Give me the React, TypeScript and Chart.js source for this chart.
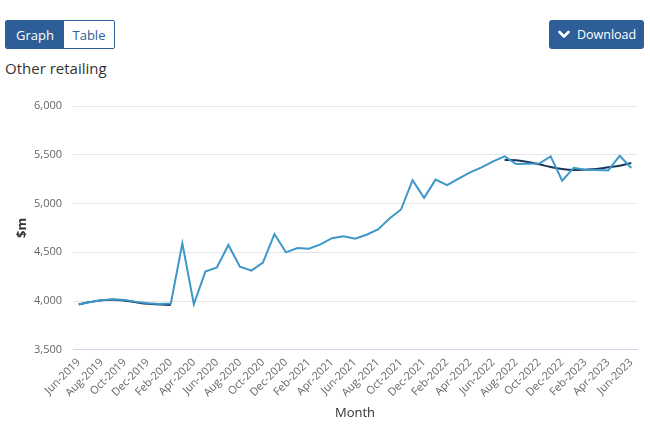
import React, { useEffect, useRef } from "react";
import { Chart, registerables } from "chart.js";

Chart.register(...registerables);

const months = [
  "Jun-2019","Jul-2019","Aug-2019","Sep-2019","Oct-2019","Nov-2019","Dec-2019",
  "Jan-2020","Feb-2020","Mar-2020","Apr-2020","May-2020","Jun-2020","Jul-2020","Aug-2020","Sep-2020","Oct-2020","Nov-2020","Dec-2020",
  "Jan-2021","Feb-2021","Mar-2021","Apr-2021","May-2021","Jun-2021","Jul-2021","Aug-2021","Sep-2021","Oct-2021","Nov-2021","Dec-2021",
  "Jan-2022","Feb-2022","Mar-2022","Apr-2022","May-2022","Jun-2022","Jul-2022","Aug-2022","Sep-2022","Oct-2022","Nov-2022","Dec-2022",
  "Jan-2023","Feb-2023","Mar-2023","Apr-2023","May-2023","Jun-2023",
];

const originalValues = [
  3965, 3990, 4008, 4018, 4012, 3992, 3978,
  3970, 3976, 4592, 3968, 4302, 4344, 4575, 4352, 4312, 4395, 4687, 4500,
  4543, 4537, 4582, 4645, 4665, 4640, 4680, 4735, 4847, 4939, 5240, 5058,
  5245, 5188, 5255, 5320, 5371, 5432, 5483, 5405, 5408, 5410, 5483, 5235,
  5365, 5347, 5345, 5340, 5490, 5365,
];

const trendValues: (number | null)[] = [
  3967, 3990, 4008, 4013, 4004, 3987, 3973,
  3966, 3959, null, null, null, null, null, null, null, null, null, null,
  null, null, null, null, null, null, null, null, null, null, null, null,
  null, null, null, null, null, null, 5447, 5443, 5425, 5402, 5374, 5354,
  5344, 5347, 5354, 5371, 5388, 5415,
];

const yMin = 3500;
const yMax = 6000;
const yStep = 500;

const FONT = "'Open Sans', sans-serif";

export default function App() {
  const canvasRef = useRef<HTMLCanvasElement | null>(null);

  useEffect(() => {
    document.body.style.margin = "0";
    const canvas = canvasRef.current;
    if (!canvas) return;
    const chart = new Chart(canvas, {
      type: "line",
      data: {
        labels: months,
        datasets: [
          {
            label: "Original",
            data: originalValues,
            borderColor: "#3d97c8",
            backgroundColor: "#3d97c8",
            borderWidth: 2,
            pointRadius: 0,
            tension: 0,
          },
          {
            label: "Trend",
            data: trendValues,
            borderColor: "#17365a",
            backgroundColor: "#17365a",
            borderWidth: 2,
            pointRadius: 0,
            tension: 0.4,
            spanGaps: false,
          },
        ],
      },
      options: {
        animation: false,
        responsive: false,
        maintainAspectRatio: false,
        layout: { padding: { left: 0, right: 13, top: 21, bottom: 2 } },
        plugins: { legend: { display: false }, tooltip: { enabled: false } },
        scales: {
          x: {
            type: "category",
            offset: true,
            grid: { display: false, drawTicks: false },
            border: { display: true, color: "#ccd6eb", width: 1 },
            ticks: {
              autoSkip: false,
              minRotation: 45,
              maxRotation: 45,
              padding: 6,
              color: "#666666",
              font: { family: FONT, size: 11 },
              callback: function (_v: any, i: number) {
                return i % 2 === 0 ? months[i] : null;
              },
            },
            title: {
              display: true,
              text: "Month",
              color: "#333333",
              font: { family: FONT, size: 13 },
              padding: { top: 0, bottom: 6 },
            },
          },
          y: {
            min: yMin,
            max: yMax,
            afterFit: (s: any) => {
              s.width = 73;
            },
            grid: { color: "#e6e6e6", drawTicks: false },
            border: { display: false },
            ticks: {
              stepSize: yStep,
              padding: 11,
              color: "#666666",
              font: { family: FONT, size: 11 },
              callback: (v: any) => Number(v).toLocaleString("en-US"),
            },
            title: {
              display: true,
              text: "$m",
              color: "#333333",
              font: { family: FONT, size: 13, weight: "bold" },
              padding: { top: 14, bottom: 0 },
            },
          },
        },
      },
    });
    return () => chart.destroy();
  }, []);

  const btnBlue = "#2e5e97";

  return (
    <div style={{ position: "absolute", left: 0, top: 0, width: 650, height: 429, fontFamily: FONT, background: "#fff" }}>
      <div
        style={{
          position: "absolute", left: 5, top: 20, width: 110, height: 29, boxSizing: "border-box",
          border: `1px solid ${btnBlue}`, display: "flex", borderRadius: 2, overflow: "hidden",
        }}
      >
        <div style={{ width: 58, background: btnBlue, color: "#fff", fontSize: 13, display: "flex", alignItems: "center", justifyContent: "center" }}>Graph</div>
        <div style={{ flex: 1, background: "#fff", color: btnBlue, fontSize: 13, display: "flex", alignItems: "center", justifyContent: "center" }}>Table</div>
      </div>
      <div
        style={{
          position: "absolute", left: 549, top: 20, width: 95, height: 29, background: btnBlue, borderRadius: 3,
          color: "#fff", fontSize: 12.5, display: "flex", alignItems: "center", boxSizing: "border-box", paddingLeft: 9,
        }}
      >
        <svg width="12" height="9" viewBox="0 0 12 9" style={{ marginRight: 7 }}>
          <path d="M1.5 2 L6 6.5 L10.5 2" stroke="#fff" strokeWidth="2.6" fill="none" strokeLinecap="round" strokeLinejoin="round" />
        </svg>
        <span>Download</span>
      </div>
      <div style={{ position: "absolute", left: 5, top: 58, fontSize: 15, color: "#333" }}>Other retailing</div>
      <canvas ref={canvasRef} width={650} height={344} style={{ position: "absolute", left: 0, top: 85, width: 650, height: 344 }} />
    </div>
  );
}
